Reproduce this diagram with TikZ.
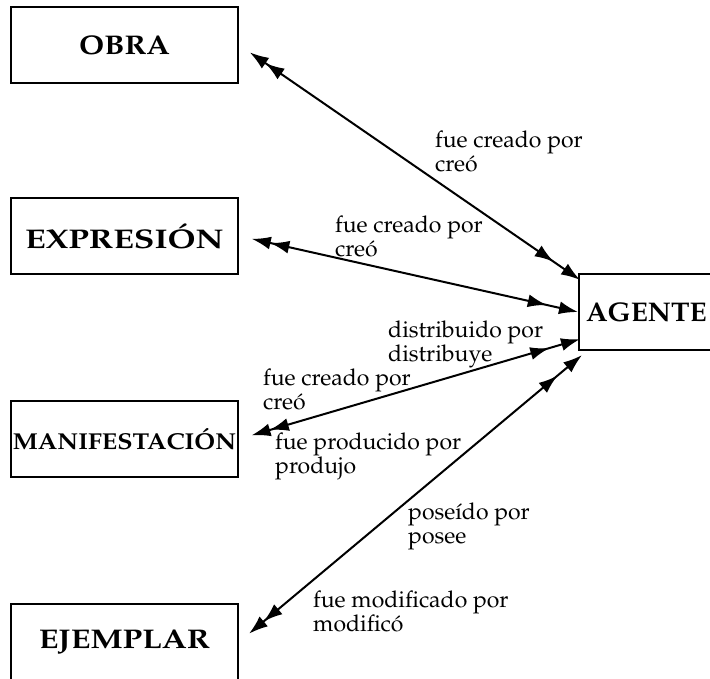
\documentclass[tikz,border=0pt]{standalone}
\usepackage[T1]{fontenc}
\usepackage{mathpazo}
\usepackage{graphicx}
\usetikzlibrary{arrows.meta}
\newcommand\hsc[2]{\scalebox{#1}[1]{#2}}
\tikzset{
  ent/.style={draw, line width=2.2pt, minimum width=227pt, minimum height=76pt, inner sep=0pt, font=\bfseries\fontsize{27}{30}\selectfont},
  lab/.style={anchor=north west, align=left, inner sep=0pt, font=\fontsize{23}{24}\selectfont},
  tip/.tip={Latex[length=19pt,width=13pt]},
  rel/.style={line width=2pt, {tip[sep=13pt]tip}-{tip[sep=13pt]tip}}
}
\begin{document}
\begin{tikzpicture}[x=1pt,y=-1pt]
\useasboundingbox (0,0) rectangle (710,679);
\clip (0,0) rectangle (710,679);
\node[ent] (obra) at (124.5,45) {\hsc{1.12}{OBRA}};
\node[ent] (expr) at (124.5,236) {\hsc{1.25}{EXPRESIÓN}};
\node[ent, font=\bfseries\fontsize{23}{26}\selectfont] (manif) at (124.5,439) {\hsc{1.09}{MANIFESTACIÓN}};
\node[ent] (ejem) at (124.5,642) {\hsc{1.19}{EJEMPLAR}};
\node[ent, anchor=west, text width=213pt, inner xsep=6pt, align=left] (agente) at (578,312) {\hsc{1.03}{AGENTE}};
\draw[rel] (obra.east) -- ([shift={(2pt,-7pt)}]agente.north west);
\draw[rel] (expr.east) -- (agente.west);
\draw[rel] (manif.east) -- ([shift={(2pt,12pt)}]agente.south west);
\draw[rel] (ejem.east) -- ([shift={(4pt,-4pt)}]agente.south west);
\node[lab] (l1) at (435,131) {fue creado por\\creó};
\node[lab] (l2) at (335,216) {fue creado por\\creó};
\node[lab] (l3) at (388,321) {distribuido por\\distribuye};
\node[lab] (l4) at (263,369) {fue creado por\\creó};
\node[lab] (l5) at (275,433) {fue producido por\\produjo};
\node[lab] (l6) at (408,503) {poseído por\\posee};
\node[lab] (l7) at (313,591) {fue modificado por\\modificó};
\end{tikzpicture}
\end{document}
